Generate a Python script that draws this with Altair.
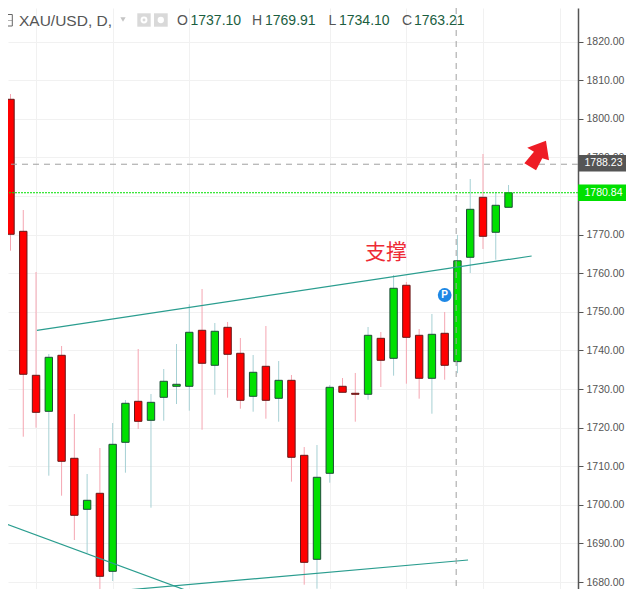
import altair as alt
import pandas as pd

# candles
opens = [1805.05, 1770.85, 1733.55, 1724.22, 1738.73, 1712.05, 1698.83, 1702.98, 1682.77, 1716.19,
         1726.81, 1721.89, 1727.85, 1730.70, 1730.70, 1745.21, 1736.14, 1745.98, 1739.25, 1728.11,
         1735.88, 1727.59, 1732.25, 1712.82, 1685.88, 1708.16, 1730.70, 1728.89, 1728.63, 1743.13,
         1737.95, 1756.87, 1743.91, 1732.77, 1744.43, 1737.10, 1764.12, 1779.66, 1770.60, 1777.07]
highs = [1806.42, 1776.37, 1760.31, 1739.07, 1741.14, 1723.52, 1707.98, 1714.72, 1721.19, 1727.15,
         1740.36, 1728.70, 1735.18, 1741.66, 1751.94, 1755.91, 1747.10, 1747.36, 1743.21, 1738.81,
         1746.32, 1737.25, 1733.63, 1714.97, 1715.49, 1731.04, 1732.85, 1734.15, 1746.06, 1744.77,
         1759.53, 1757.72, 1745.54, 1749.43, 1749.95, 1769.91, 1784.40, 1790.88, 1781.04, 1782.85]
lows = [1765.83, 1717.64, 1719.97, 1707.54, 1702.36, 1690.88, 1687.51, 1677.15, 1680.26, 1708.32,
        1719.64, 1699.25, 1721.79, 1726.11, 1724.38, 1719.46, 1728.52, 1727.75, 1724.90, 1724.12,
        1722.31, 1721.53, 1705.99, 1679.30, 1678.27, 1705.73, 1729.15, 1721.53, 1727.23, 1730.52,
        1733.45, 1731.37, 1727.49, 1723.60, 1732.41, 1734.10, 1760.05, 1766.27, 1763.50, 1777.07]
closes = [1770.08, 1733.81, 1723.96, 1738.21, 1711.27, 1697.28, 1701.17, 1681.48, 1715.67, 1726.30,
          1721.63, 1726.55, 1732.00, 1731.22, 1744.69, 1736.66, 1744.95, 1738.99, 1727.07, 1734.33,
          1727.07, 1732.25, 1712.31, 1685.10, 1707.13, 1730.44, 1729.15, 1728.63, 1743.91, 1737.44,
          1756.09, 1743.39, 1732.77, 1744.17, 1736.14, 1763.21, 1776.55, 1769.56, 1777.59, 1780.84]

price_ticks = [1680, 1690, 1700, 1710, 1720, 1730, 1740, 1750, 1760, 1770, 1780, 1790, 1800, 1810, 1820]
time_grid = [2, 8, 14, 25, 31, 37, 43]

# three hand drawn trend lines: bar index / price pairs
line_ids = ['a', 'a', 'b', 'b', 'c', 'c']
line_bars = [2.07, 40.81, -0.82, 15.1, 7.01, 35.83]
line_prices = [1745.21, 1764.46, 1695.62, 1676.2, 1677.33, 1685.7]

last_price = 1780.84
cross_price = 1788.23
cross_bar = 34.9

M = 8  # page margin, positions below are read in page pixels
X_DOM = [-0.196, 44.44]
Y_DOM = [1678.19, 1828.7]
RED, GREEN = '#ff0000', '#00e000'

df = pd.DataFrame({'bar': range(len(opens)), 'open': opens, 'high': highs, 'low': lows, 'close': closes})
df['dir'] = ['up' if c >= o else 'down' for o, c in zip(opens, closes)]
lines = pd.DataFrame({'id': line_ids, 'bar': line_bars, 'price': line_prices})

x_axis = alt.Axis(values=time_grid, grid=True, gridColor='#f1f1f1', labels=False,
                  ticks=False, domain=False, title=None)
y_axis = alt.Axis(orient='right', values=price_ticks, grid=True, gridColor='#f1f1f1',
                  labelExpr="datum.value == 1780 ? '' : format(datum.value, '.2f')",
                  domainColor='#555555', domainWidth=1.5, tickColor='#555555', tickSize=5,
                  labelColor='#555555', labelFont='Liberation Sans', labelFontSize=10.5,
                  labelPadding=3, title=None)
# padding=0: bars would otherwise pad the continuous x scale
x_enc = alt.X('bar:Q', scale=alt.Scale(domain=X_DOM, nice=False, zero=False, padding=0), axis=x_axis)


def y_enc(field):
    return alt.Y(field, scale=alt.Scale(domain=Y_DOM, nice=False, zero=False), axis=y_axis)


wicks = alt.Chart(df).mark_rule(strokeWidth=1).encode(
    x=x_enc,
    y=y_enc('low:Q'),
    y2='high:Q',
    color=alt.Color('dir:N', scale=alt.Scale(domain=['up', 'down'], range=['#a6d0d4', '#f5a6b2']), legend=None)
)

bodies = alt.Chart(df).mark_bar(size=7.4, strokeWidth=1).encode(
    x=x_enc,
    y=y_enc('open:Q'),
    y2='close:Q',
    fill=alt.Fill('dir:N', scale=alt.Scale(domain=['up', 'down'], range=[GREEN, RED]), legend=None),
    stroke=alt.Stroke('dir:N', scale=alt.Scale(domain=['up', 'down'], range=['#1d4d38', '#661818']), legend=None)
)

trend = alt.Chart(lines).mark_line(color='#2a9d8f', strokeWidth=1.2, clip=True).encode(
    x=x_enc,
    y=y_enc('price:Q'),
    detail='id:N'
)


def hline(price, color, dash):
    return alt.Chart(pd.DataFrame({'price': [price]})).mark_rule(
        color=color, strokeWidth=1, strokeDash=dash).encode(y=y_enc('price:Q'))


cross_h = hline(cross_price, '#a0a0a0', [6, 5])
last_h = hline(last_price, GREEN, [2, 1])
cross_v = alt.Chart(pd.DataFrame({'bar': [cross_bar]})).mark_rule(
    color='#a0a0a0', strokeWidth=1, strokeDash=[6, 5]).encode(x=x_enc)


def text(s, x, y, color='#555555', size=14, font='Liberation Sans', align='left', weight='normal'):
    return alt.Chart(alt.Data(values=[{'t': s}])).mark_text(
        color=color, fontSize=size, font=font, align=align, baseline='middle', fontWeight=weight
    ).encode(x=alt.value(x - M), y=alt.value(y - M), text='t:N')


def box(x, x2, y, y2, color, stroke=None):
    mark = dict(fill=color)
    if stroke:
        mark = dict(fill=color, stroke=stroke, strokeWidth=1)
    return alt.Chart(alt.Data(values=[{}])).mark_rect(**mark).encode(
        x=alt.value(x - M), x2=alt.value(x2 - M), y=alt.value(y - M), y2=alt.value(y2 - M))


def dot(x, y, size, color, shape='circle', filled=True, stroke=None):
    kw = dict(filled=filled, size=size, shape=shape, opacity=1)
    if filled:
        kw['color'] = color
    else:
        kw.update(stroke=stroke, strokeWidth=2)
    return alt.Chart(alt.Data(values=[{}])).mark_point(**kw).encode(x=alt.value(x - M), y=alt.value(y - M))


# price tags sitting on the axis
def tag(price, color, y_mid):
    return [box(578, 627, y_mid - 8.3, y_mid + 8.3, color),
            text(f'{price:.2f}', 603.5, y_mid, color='white', size=10.5, align='center')]


tags = tag(cross_price, '#555555', 163.2) + tag(last_price, GREEN, 192.8)

arrow = alt.Chart(pd.DataFrame({'bar': [41.23], 'price': [1790.62]})).mark_point(
    shape='M0.56,-0.89 L-0.61,-0.46 L-0.19,-0.21 L-0.79,0.52 L-0.06,0.96 L0.33,0.21 L0.75,0.33 Z',
    size=1024, filled=True, color='#ee1c25', opacity=1
).encode(x=x_enc, y=y_enc('price:Q'))

badge = alt.Chart(pd.DataFrame({'bar': [34], 'price': [1754.35]})).mark_point(
    shape='circle', size=190, filled=True, color='#1e88e5', opacity=1
).encode(x=x_enc, y=y_enc('price:Q'))
badge_p = alt.Chart(pd.DataFrame({'bar': [34], 'price': [1754.35], 't': ['P']})).mark_text(
    color='white', fontSize=10, fontWeight='bold', font='Liberation Sans'
).encode(x=x_enc, y=y_enc('price:Q'), text='t:N')

header = [
    box(0, 12.3, 14.5, 26, 'white', '#666666'),
    box(3, 12, 20, 20.5, '#666666'),
    text('XAU/USD, D,', 19, 20.5, size=15.5),
    dot(123, 19.5, 28, '#c4c4c4', shape='triangle-down'),
    box(137.3, 150.7, 13.3, 26.7, '#d9d9d9'),
    dot(144, 20, 24, 'white', filled=False, stroke='white'),
    box(154, 167.7, 13.3, 26.7, '#d9d9d9'),
    dot(160.8, 20, 40, 'white'),
    text('O', 177, 20.5),
    text('1737.10', 190.5, 20.5, color='#1b5e3f'),
    text('H', 252, 20.5),
    text('1769.91', 265, 20.5, color='#1b5e3f'),
    text('L', 328.5, 20.5),
    text('1734.10', 339, 20.5, color='#1b5e3f'),
    text('C', 402, 20.5),
    text('1763.21', 414, 20.5, color='#1b5e3f'),
]

support = text('支撑', 386, 253, color='#ee2a35', size=21, font='Noto Sans CJK SC', align='center')

chart = alt.layer(
    wicks, bodies, trend, cross_h, last_h, cross_v, arrow, badge, badge_p, support,
    *tags, *header
).properties(
    width=570,
    height=581,
    autosize='none',
    background='white',
    padding={'left': 0, 'top': 0, 'right': 48, 'bottom': 0}
).configure_view(strokeWidth=0)

chart.save("out.html", embed_options={"renderer": "svg", "actions": False})
